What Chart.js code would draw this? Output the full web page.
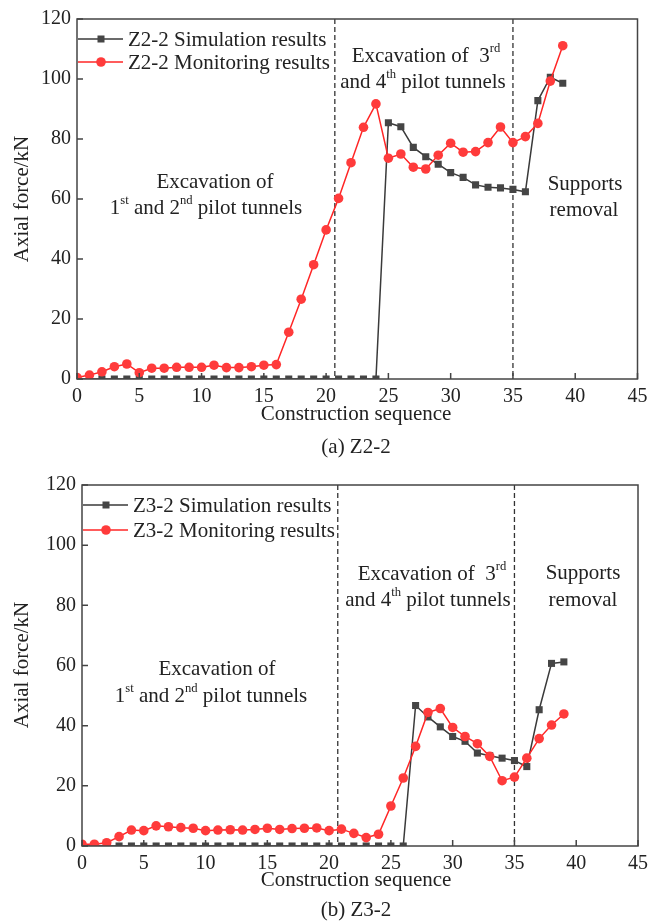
<!DOCTYPE html>
<html>
<head>
<meta charset="utf-8">
<script src="https://cdn.jsdelivr.net/npm/chart.js@4.4.0/dist/chart.umd.min.js"></script>
<style>
  html, body { margin: 0; padding: 0; background: #fff; }
  #wrap { position: relative; width: 654px; height: 922px; }
  canvas { position: absolute; left: 0; }
</style>
</head>
<body>
<div id="wrap">
  <canvas id="chartA" width="654" height="461" style="top:0"></canvas>
  <canvas id="chartB" width="654" height="461" style="top:461px"></canvas>
</div>
<script>
// construction steps
const seq = [0, 1, 2, 3, 4, 5, 6, 7, 8, 9, 10, 11, 12, 13, 14, 15, 16, 17, 18, 19,
  20, 21, 22, 23, 24, 25, 26, 27, 28, 29, 30, 31, 32, 33, 34, 35, 36, 37, 38, 39];
const xTicks = [0, 5, 10, 15, 20, 25, 30, 35, 40, 45];
const yTicks = [0, 20, 40, 60, 80, 100, 120];
const stageLines = [20.7, 35];

// Z2-2
const z22Sim = [0, 0, 0, 0, 0, 0, 0, 0, 0, 0, 0, 0, 0, 0, 0, 0, 0, 0, 0, 0, 0, 0, 0, 0, 0,
  85.4, 84.1, 77.2, 74.1, 71.6, 68.8, 67.2, 64.7, 63.9, 63.7, 63.2, 62.4, 92.8, 100.6, 98.6];
const z22Mon = [0.5, 1.3, 2.4, 4.1, 5.0, 2.1, 3.6, 3.6, 3.9, 3.9, 3.9, 4.6, 3.8, 3.8, 4.1, 4.6, 4.8,
  15.6, 26.6, 38.1, 49.7, 60.2, 72.1, 83.9, 91.7, 73.6, 75.0, 70.6, 70.0, 74.6, 78.6, 75.6, 75.8,
  78.8, 84.0, 78.8, 80.8, 85.2, 99.3, 111.1];

// Z3-2
const z32Sim = [0, 0, 0, 0, 0, 0, 0, 0, 0, 0, 0, 0, 0, 0, 0, 0, 0, 0, 0, 0, 0, 0, 0, 0, 0, 0, 0,
  46.7, 42.9, 39.6, 36.4, 34.8, 30.9, 30.0, 29.2, 28.4, 26.4, 45.3, 60.7, 61.2];
const z32Mon = [0.6, 0.6, 1.1, 3.1, 5.3, 5.1, 6.7, 6.4, 6.1, 5.9, 5.1, 5.3, 5.4, 5.3, 5.5, 5.9, 5.5,
  5.8, 5.9, 6.0, 5.1, 5.6, 4.2, 2.8, 3.9, 13.3, 22.6, 33.1, 44.4, 45.7, 39.4, 36.4, 34.0, 29.8,
  21.7, 22.9, 29.2, 35.7, 40.2, 43.9];

const FONT = '"Liberation Serif", "Times New Roman", serif';
const TXT = 21;
const INK = '#222';
const AXIS = '#444';
const SIM_LINE = '#3a3a3a', SIM_FILL = '#454545';
const MON_LINE = '#ff2626', MON_FILL = '#ff3b3b';

function richText(ctx, parts, cx, cy, size) {
  // parts: [text, isSup]
  let total = 0;
  parts.forEach(p => {
    ctx.font = (p[1] ? size * 0.6 : size) + 'px ' + FONT;
    total += ctx.measureText(p[0]).width;
  });
  let x = cx - total / 2;
  ctx.textAlign = 'left';
  ctx.textBaseline = 'middle';
  parts.forEach(p => {
    ctx.font = (p[1] ? size * 0.6 : size) + 'px ' + FONT;
    ctx.fillText(p[0], x, p[1] ? cy - size * 0.33 : cy);
    x += ctx.measureText(p[0]).width;
  });
}

function makePlugin(cfg) {
  return {
    id: 'decor',
    beforeDatasetsDraw(chart) {
      const { ctx, chartArea: a, scales: { x } } = chart;
      ctx.save();
      ctx.strokeStyle = '#333';
      ctx.lineWidth = 1.3;
      ctx.setLineDash([5, 3]);
      stageLines.forEach(v => {
        const px = x.getPixelForValue(v);
        ctx.beginPath();
        ctx.moveTo(px, a.top);
        ctx.lineTo(px, a.bottom);
        ctx.stroke();
      });
      ctx.restore();
    },
    afterDraw(chart) {
      const { ctx, chartArea: a, scales: { x, y } } = chart;
      ctx.save();
      // frame + inward ticks
      ctx.strokeStyle = AXIS;
      ctx.lineWidth = 1.5;
      ctx.strokeRect(a.left, a.top, a.right - a.left, a.bottom - a.top);
      ctx.beginPath();
      xTicks.forEach(v => {
        const px = x.getPixelForValue(v);
        ctx.moveTo(px, a.bottom);
        ctx.lineTo(px, a.bottom - 6);
      });
      yTicks.forEach(v => {
        const py = y.getPixelForValue(v);
        ctx.moveTo(a.left, py);
        ctx.lineTo(a.left + 6, py);
      });
      ctx.stroke();

      // legend
      cfg.legend.forEach(it => {
        ctx.strokeStyle = it.line;
        ctx.lineWidth = 1.5;
        ctx.beginPath();
        ctx.moveTo(a.left + 1, it.y);
        ctx.lineTo(a.left + 46, it.y);
        ctx.stroke();
        ctx.fillStyle = it.fill;
        const mx = a.left + 24;
        if (it.square) {
          ctx.fillRect(mx - 3.5, it.y - 3.5, 7, 7);
        } else {
          ctx.beginPath();
          ctx.arc(mx, it.y, 4.8, 0, Math.PI * 2);
          ctx.fill();
        }
        ctx.fillStyle = INK;
        ctx.font = TXT + 'px ' + FONT;
        ctx.textAlign = 'left';
        ctx.textBaseline = 'middle';
        ctx.fillText(it.text, a.left + 51, it.y + 1);
      });

      // annotations
      ctx.fillStyle = INK;
      cfg.notes.forEach(n => richText(ctx, n.parts, n.x, n.y, TXT));

      // axis titles and caption
      ctx.font = TXT + 'px ' + FONT;
      ctx.textAlign = 'center';
      ctx.textBaseline = 'middle';
      ctx.fillText('Construction sequence', cfg.titleX, cfg.xTitleY);
      ctx.fillText(cfg.caption, cfg.titleX, cfg.captionY);
      ctx.save();
      ctx.translate(22, cfg.yTitleY);
      ctx.rotate(-Math.PI / 2);
      ctx.fillText('Axial force/kN', 0, 0);
      ctx.restore();
      ctx.restore();
    }
  };
}

function buildChart(id, sim, mon, simLabel, monLabel, box, cfg) {
  const tickFont = { family: FONT, size: 20 };
  return new Chart(document.getElementById(id), {
    type: 'line',
    data: {
      datasets: [
        {
          label: simLabel,
          data: seq.map((s, i) => ({ x: s, y: sim[i] })),
          borderColor: SIM_LINE,
          backgroundColor: SIM_FILL,
          borderWidth: 1.5,
          pointStyle: 'rect',
          pointRadius: 5,
          pointBorderWidth: 0,
          order: 1,
          clip: 0
        },
        {
          label: monLabel,
          data: seq.map((s, i) => ({ x: s, y: mon[i] })),
          borderColor: MON_LINE,
          backgroundColor: MON_FILL,
          borderWidth: 1.5,
          pointStyle: 'circle',
          pointRadius: 4.8,
          pointBorderWidth: 0,
          order: 0,
          clip: 0
        }
      ]
    },
    options: {
      responsive: false,
      animation: false,
      layout: { padding: { top: box.top, right: box.right, left: 0, bottom: 0 } },
      plugins: { legend: { display: false }, tooltip: { enabled: false } },
      scales: {
        x: {
          type: 'linear', min: 0, max: 45,
          afterBuildTicks: s => { s.ticks = xTicks.map(v => ({ value: v })); },
          afterFit: s => { s.height = box.xh; },
          grid: { display: false, drawTicks: false },
          border: { display: false },
          ticks: { padding: 6, font: tickFont, color: INK, maxRotation: 0, autoSkip: false }
        },
        y: {
          min: 0, max: 120,
          afterBuildTicks: s => { s.ticks = yTicks.map(v => ({ value: v })); },
          afterFit: s => { s.width = box.yw; },
          grid: { display: false, drawTicks: false },
          border: { display: false },
          ticks: { padding: 6, font: tickFont, color: INK, autoSkip: false }
        }
      }
    },
    plugins: [makePlugin(cfg)]
  });
}

buildChart('chartA', z22Sim, z22Mon, 'Z2-2 Simulation results', 'Z2-2 Monitoring results',
  { top: 19, right: 16.5, xh: 82, yw: 77 },
  {
    legend: [
      { text: 'Z2-2 Simulation results', y: 39, line: SIM_LINE, fill: SIM_FILL, square: true },
      { text: 'Z2-2 Monitoring results', y: 62, line: MON_LINE, fill: MON_FILL, square: false }
    ],
    notes: [
      { parts: [['Excavation of', false]], x: 215, y: 182 },
      { parts: [['1', false], ['st', true], [' and 2', false], ['nd', true], [' pilot tunnels', false]], x: 206, y: 208 },
      { parts: [['Excavation of  3', false], ['rd', true]], x: 426, y: 56 },
      { parts: [['and 4', false], ['th', true], [' pilot tunnels', false]], x: 423, y: 82 },
      { parts: [['Supports', false]], x: 585, y: 184 },
      { parts: [['removal', false]], x: 584, y: 210 }
    ],
    titleX: 356, xTitleY: 414, captionY: 447, yTitleY: 199,
    caption: '(a) Z2-2'
  });

buildChart('chartB', z32Sim, z32Mon, 'Z3-2 Simulation results', 'Z3-2 Monitoring results',
  { top: 24, right: 12.3, xh: 76, yw: 82 },
  {
    legend: [
      { text: 'Z3-2 Simulation results', y: 44, line: SIM_LINE, fill: SIM_FILL, square: true },
      { text: 'Z3-2 Monitoring results', y: 69, line: MON_LINE, fill: MON_FILL, square: false }
    ],
    notes: [
      { parts: [['Excavation of', false]], x: 217, y: 208 },
      { parts: [['1', false], ['st', true], [' and 2', false], ['nd', true], [' pilot tunnels', false]], x: 211, y: 235 },
      { parts: [['Excavation of  3', false], ['rd', true]], x: 432, y: 113 },
      { parts: [['and 4', false], ['th', true], [' pilot tunnels', false]], x: 428, y: 139 },
      { parts: [['Supports', false]], x: 583, y: 112 },
      { parts: [['removal', false]], x: 583, y: 139 }
    ],
    titleX: 356, xTitleY: 419, captionY: 449, yTitleY: 204,
    caption: '(b) Z3-2'
  });
</script>
</body>
</html>
